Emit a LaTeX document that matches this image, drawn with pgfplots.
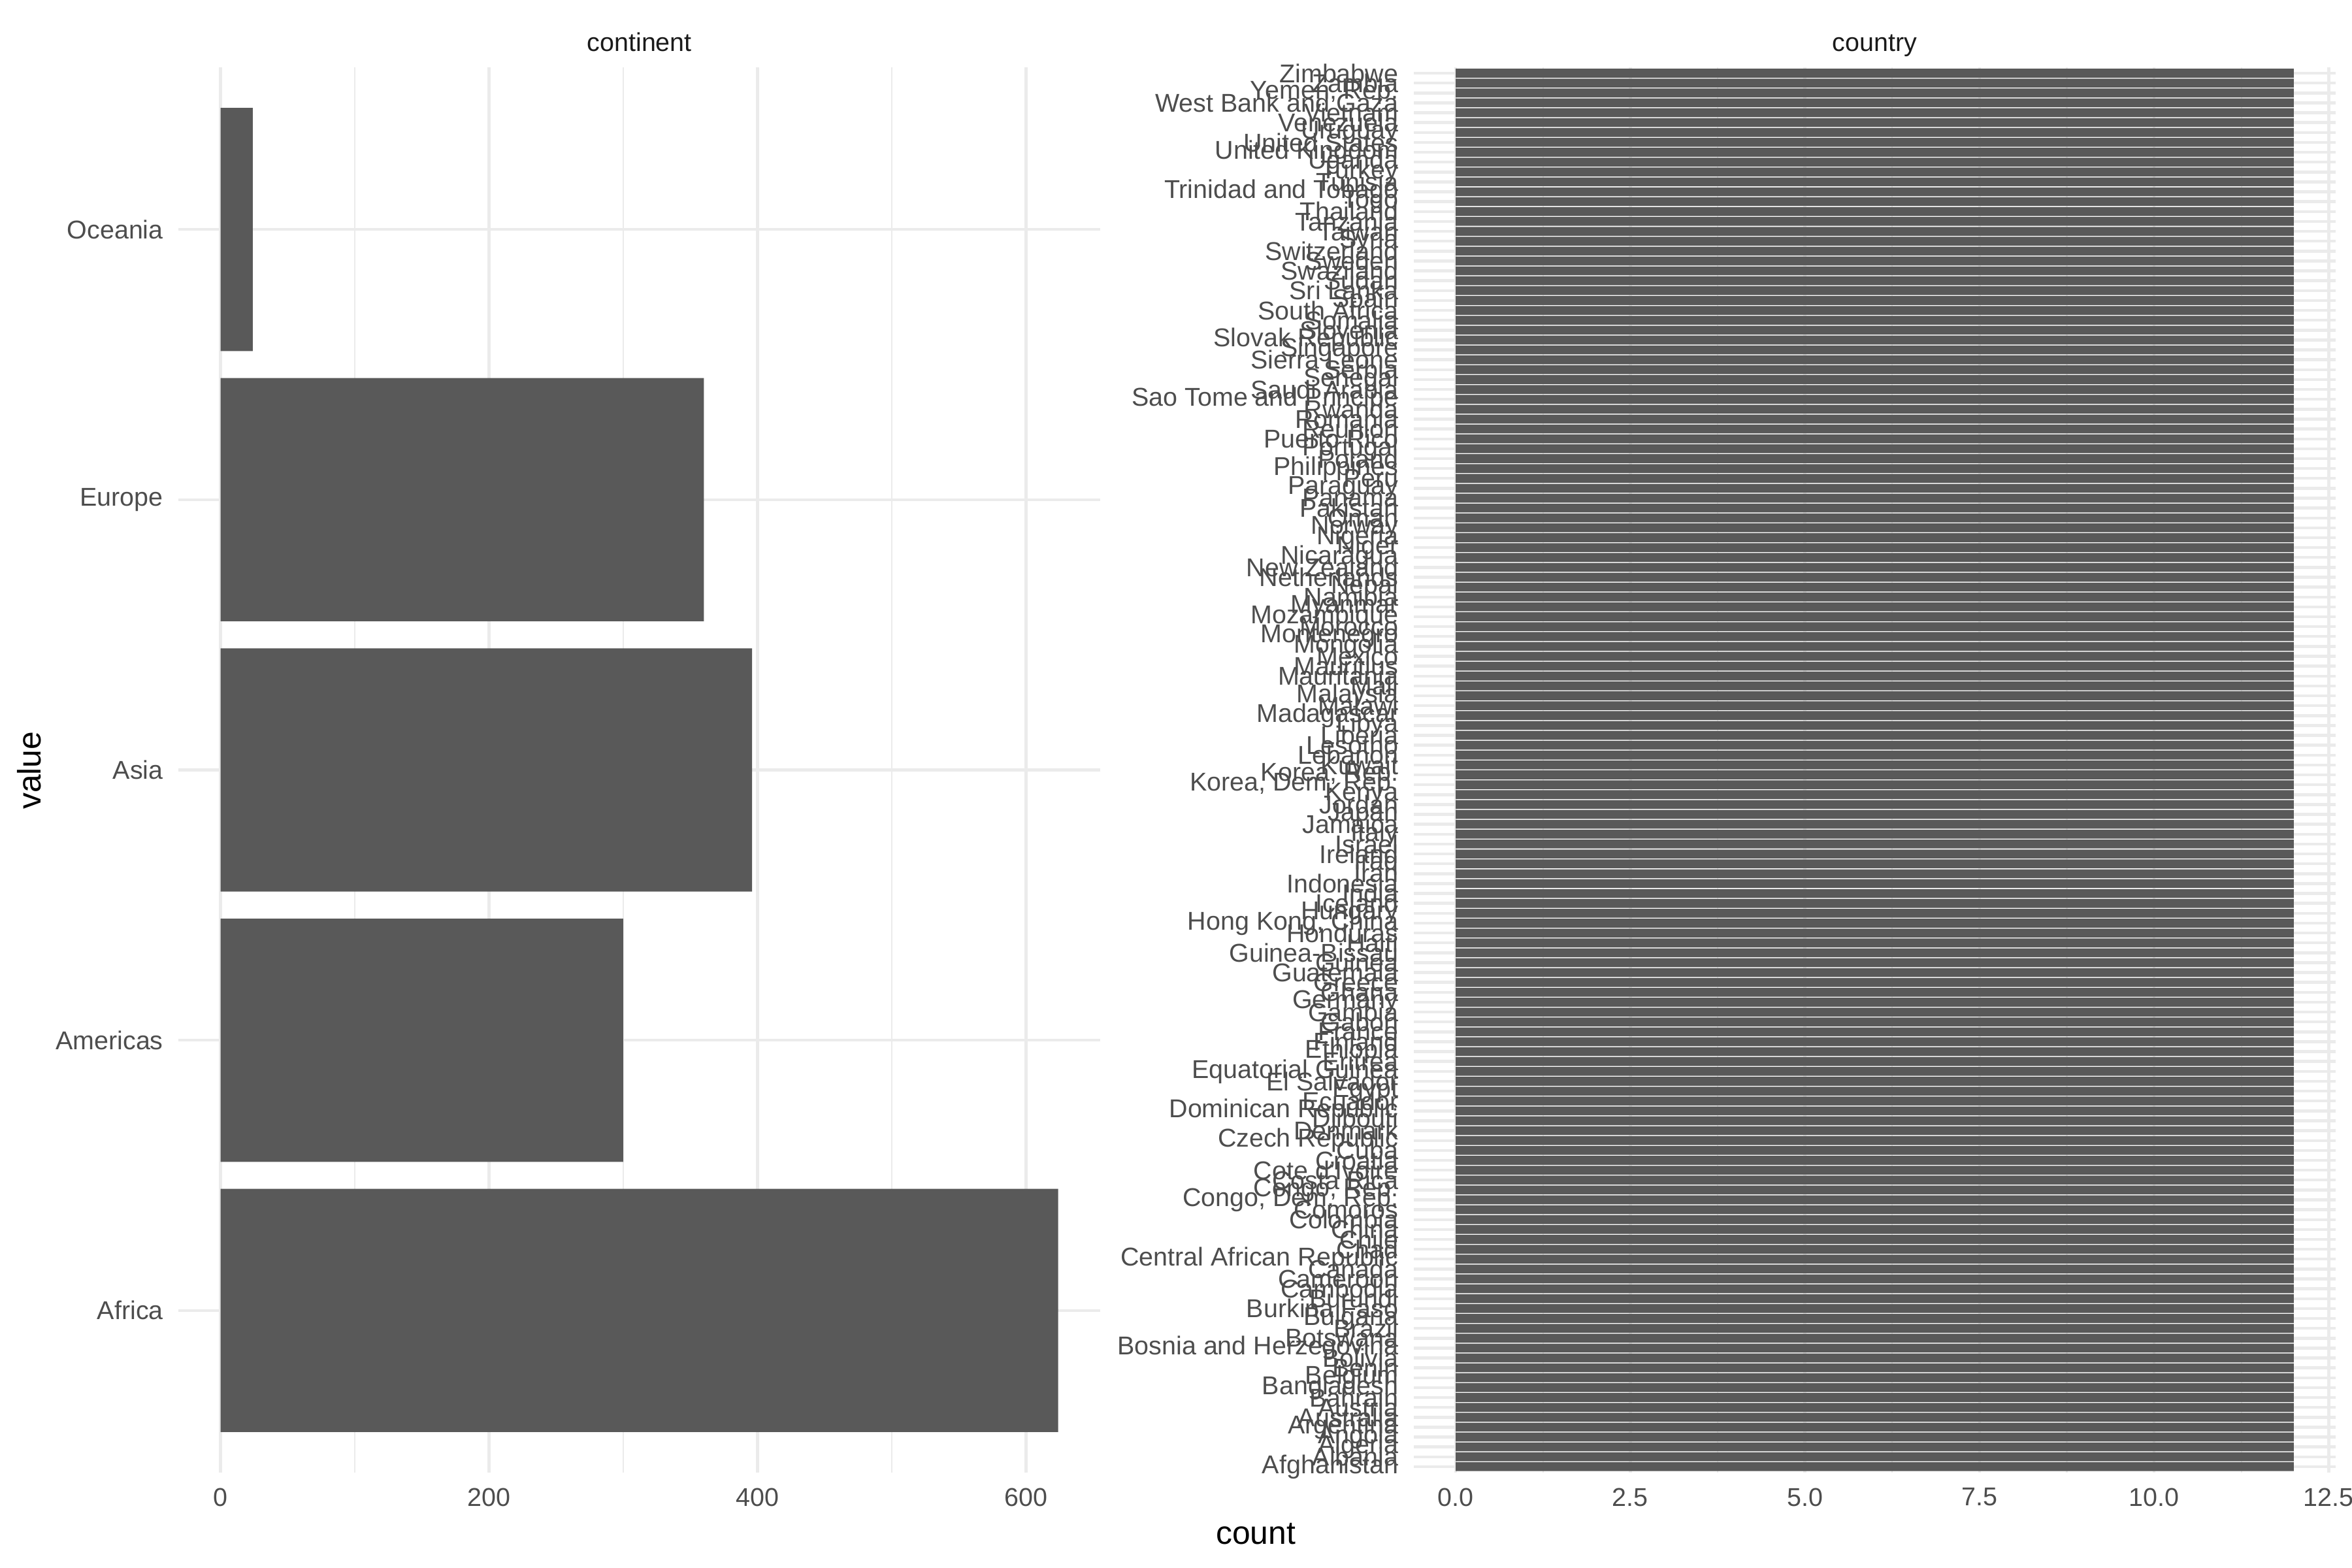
\documentclass[border=0pt]{standalone}
\usepackage{fontspec}
\setmainfont{Liberation Sans}
\usepackage{pgfplots}
\pgfplotsset{compat=1.18}
\definecolor{barcol}{HTML}{595959}
\definecolor{gridcol}{HTML}{EBEBEB}
\definecolor{tickcol}{HTML}{4D4D4D}
\definecolor{stripcol}{HTML}{1A1A1A}
\pgfplotsset{
  ggpanel/.style={
    scale only axis,
    anchor=south west,
    height=516.24bp,
    enlargelimits=false,
    axis line style={draw=none},
    tick style={draw=none},
    major tick length=0pt,
    minor tick length=0pt,
    xmajorgrids, xminorgrids, ymajorgrids,
    major grid style={color=gridcol, line width=1.07bp},
    minor grid style={color=gridcol, line width=0.53bp},
    ticklabel style={font=\fontsize{9.5}{11}\selectfont, text=tickcol},
    xticklabel style={anchor=north, inner sep=0pt, yshift=-5.5bp},
    yticklabel style={anchor=east, inner sep=0pt, xshift=-5.5bp},
    /pgf/number format/assume math mode=true,
  }
}
\begin{document}
\begin{tikzpicture}
\path[use as bounding box] (0,0) rectangle (864bp,576bp);
% continent panel
\begin{axis}[ggpanel,
  at={(65.62bp,35.04bp)}, width=338.5bp,
  xmin=-31.2, xmax=655.2, ymin=0.4, ymax=5.6,
  xtick={0,200,400,600}, xticklabels={0,200,400,600},
  minor xtick={100,300,500},
  ytick={1,2,3,4,5},
  yticklabels={Africa,Americas,Asia,Europe,Oceania},
]
\addplot[xbar, bar width=0.9, bar shift=0pt, fill=barcol, draw=none]
  coordinates {(624,1) (300,2) (396,3) (360,4) (24,5)};
\end{axis}
% country panel
\begin{axis}[ggpanel,
  at={(519.36bp,35.04bp)}, width=338.64bp,
  xmin=-0.6, xmax=12.6, ymin=0.4, ymax=142.6,
  xtick={0,2.5,5,7.5,10,12.5}, xticklabels={0.0,2.5,5.0,7.5,10.0,12.5},
  minor xtick={1.25,3.75,6.25,8.75,11.25},
  ytick={1,...,142},
  yticklabels={Afghanistan,Albania,Algeria,Angola,Argentina,Australia,Austria,Bahrain,Bangladesh,Belgium,Benin,Bolivia,Bosnia and Herzegovina,Botswana,Brazil,Bulgaria,Burkina Faso,Burundi,Cambodia,Cameroon,Canada,Central African Republic,Chad,Chile,China,Colombia,Comoros,{Congo, Dem. Rep.},{Congo, Rep.},Costa Rica,Cote d'Ivoire,Croatia,Cuba,Czech Republic,Denmark,Djibouti,Dominican Republic,Ecuador,Egypt,El Salvador,Equatorial Guinea,Eritrea,Ethiopia,Finland,France,Gabon,Gambia,Germany,Ghana,Greece,Guatemala,Guinea,Guinea-Bissau,Haiti,Honduras,{Hong Kong, China},Hungary,Iceland,India,Indonesia,Iran,Iraq,Ireland,Israel,Italy,Jamaica,Japan,Jordan,Kenya,{Korea, Dem. Rep.},{Korea, Rep.},Kuwait,Lebanon,Lesotho,Liberia,Libya,Madagascar,Malawi,Malaysia,Mali,Mauritania,Mauritius,Mexico,Mongolia,Montenegro,Morocco,Mozambique,Myanmar,Namibia,Nepal,Netherlands,New Zealand,Nicaragua,Niger,Nigeria,Norway,Oman,Pakistan,Panama,Paraguay,Peru,Philippines,Poland,Portugal,Puerto Rico,Reunion,Romania,Rwanda,Sao Tome and Principe,Saudi Arabia,Senegal,Serbia,Sierra Leone,Singapore,Slovak Republic,Slovenia,Somalia,South Africa,Spain,Sri Lanka,Sudan,Swaziland,Sweden,Switzerland,Syria,Taiwan,Tanzania,Thailand,Togo,Trinidad and Tobago,Tunisia,Turkey,Uganda,United Kingdom,United States,Uruguay,Venezuela,Vietnam,West Bank and Gaza,{Yemen, Rep.},Zambia,Zimbabwe},
]
\addplot[xbar, bar width=0.9, bar shift=0pt, fill=barcol, draw=none]
  coordinates {
  (12,1) (12,2) (12,3) (12,4) (12,5) (12,6) (12,7) (12,8) (12,9) (12,10)
  (12,11) (12,12) (12,13) (12,14) (12,15) (12,16) (12,17) (12,18) (12,19) (12,20)
  (12,21) (12,22) (12,23) (12,24) (12,25) (12,26) (12,27) (12,28) (12,29) (12,30)
  (12,31) (12,32) (12,33) (12,34) (12,35) (12,36) (12,37) (12,38) (12,39) (12,40)
  (12,41) (12,42) (12,43) (12,44) (12,45) (12,46) (12,47) (12,48) (12,49) (12,50)
  (12,51) (12,52) (12,53) (12,54) (12,55) (12,56) (12,57) (12,58) (12,59) (12,60)
  (12,61) (12,62) (12,63) (12,64) (12,65) (12,66) (12,67) (12,68) (12,69) (12,70)
  (12,71) (12,72) (12,73) (12,74) (12,75) (12,76) (12,77) (12,78) (12,79) (12,80)
  (12,81) (12,82) (12,83) (12,84) (12,85) (12,86) (12,87) (12,88) (12,89) (12,90)
  (12,91) (12,92) (12,93) (12,94) (12,95) (12,96) (12,97) (12,98) (12,99) (12,100)
  (12,101) (12,102) (12,103) (12,104) (12,105) (12,106) (12,107) (12,108) (12,109) (12,110)
  (12,111) (12,112) (12,113) (12,114) (12,115) (12,116) (12,117) (12,118) (12,119) (12,120)
  (12,121) (12,122) (12,123) (12,124) (12,125) (12,126) (12,127) (12,128) (12,129) (12,130)
  (12,131) (12,132) (12,133) (12,134) (12,135) (12,136) (12,137) (12,138) (12,139) (12,140)
  (12,141) (12,142)};
\end{axis}
% strip labels and axis titles
\node[anchor=base, text=stripcol, font=\fontsize{9.5}{11}\selectfont, inner sep=0pt] at (234.9bp,557.04bp) {continent};
\node[anchor=base, text=stripcol, font=\fontsize{9.5}{11}\selectfont, inner sep=0pt] at (688.7bp,557.04bp) {country};
\node[anchor=base, font=\fontsize{12}{14}\selectfont, inner sep=0pt] at (461.3bp,8.88bp) {count};
\node[anchor=base, rotate=90, font=\fontsize{12}{14}\selectfont, inner sep=0pt] at (14.88bp,293bp) {value};
\end{tikzpicture}
\end{document}
